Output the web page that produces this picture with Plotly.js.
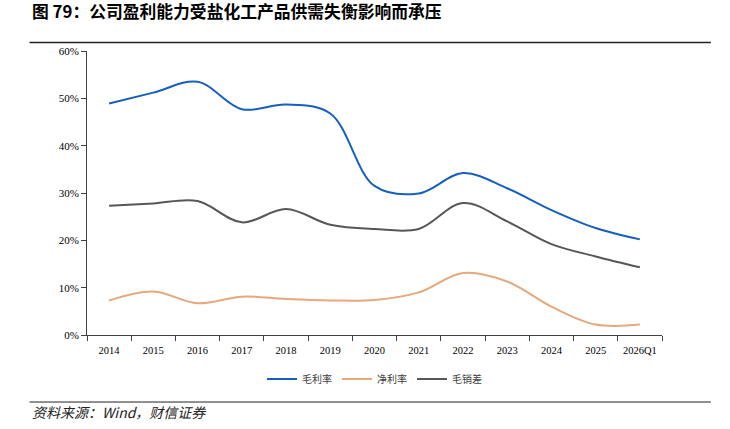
<!DOCTYPE html>
<html>
<head>
<meta charset="utf-8">
<script src="https://cdn.plot.ly/plotly-3.0.1.min.js"></script>
<style>
  html, body { margin: 0; padding: 0; background: #ffffff; }
  #chart { width: 730px; height: 429px; }
</style>
</head>
<body>
<div id="chart"></div>
<script>
// Year categories on the x axis
const years = ['2014', '2015', '2016', '2017', '2018', '2019', '2020',
               '2021', '2022', '2023', '2024', '2025', '2026Q1'];

// Gross margin (%)
const grossMargin = [48.9, 51.2, 53.5, 47.7, 48.7, 46.8, 31.5, 29.9, 34.2, 31.0, 26.4, 22.6, 20.2];
// Net margin (%)
const netMargin = [7.3, 9.2, 6.7, 8.1, 7.6, 7.3, 7.4, 9.0, 13.1, 11.3, 6.0, 2.2, 2.2];
// Gross margin minus selling expense ratio (%)
const grossLessSelling = [27.3, 27.8, 28.3, 23.8, 26.6, 23.3, 22.4, 22.4, 27.9, 24.0, 19.2, 16.6, 14.3];

const seriesNames = ['毛利率', '净利率', '毛销差'];
const seriesColors = ['#1660bd', '#e6a87c', '#575757'];
const seriesValues = [grossMargin, netMargin, grossLessSelling];

const traces = seriesValues.map((vals, i) => ({
  type: 'scatter',
  mode: 'lines',
  name: seriesNames[i],
  x: years,
  y: vals.map(v => v / 100),
  line: { color: seriesColors[i], width: 2, shape: 'spline', smoothing: 1 },
  hoverinfo: 'x+y'
}));

const serif = 'Liberation Serif, Times New Roman, serif';
const cjk = 'Noto Sans CJK SC, sans-serif';

const layout = {
  width: 730,
  height: 429,
  margin: { l: 87, r: 68, t: 51, b: 94 },
  paper_bgcolor: '#ffffff',
  plot_bgcolor: '#ffffff',
  showlegend: true,
  legend: {
    orientation: 'h',
    x: 0.5, xanchor: 'center',
    y: -0.155, yanchor: 'middle',
    font: { family: cjk, size: 10, color: '#404040' },
    itemwidth: 30,
    tracegroupgap: 0
  },
  xaxis: {
    type: 'category',
    range: [-0.5, years.length - 0.5],
    showgrid: false,
    zeroline: false,
    showline: true,
    linecolor: '#404040',
    linewidth: 1,
    ticks: 'outside',
    tickson: 'boundaries',
    ticklen: 5,
    tickcolor: '#404040',
    tickangle: 0,
    ticklabelstandoff: 5,
    tickfont: { family: serif, size: 10.5, color: '#000000' },
    fixedrange: true
  },
  yaxis: {
    range: [0, 0.6],
    dtick: 0.1,
    tickformat: '.0%',
    showgrid: false,
    zeroline: false,
    showline: true,
    linecolor: '#404040',
    linewidth: 1,
    ticks: 'outside',
    ticklen: 5,
    tickcolor: '#404040',
    tickfont: { family: serif, size: 11, color: '#000000' },
    fixedrange: true
  },
  shapes: [
    { type: 'line', xref: 'paper', yref: 'paper', x0: -0.1, x1: 1.085,
      y0: 1.03, y1: 1.03, line: { color: '#222222', width: 1.5 } },
    { type: 'line', xref: 'paper', yref: 'paper', x0: -0.1, x1: 1.085,
      y0: -0.236, y1: -0.236, line: { color: '#222222', width: 1 } }
  ],
  annotations: [
    { xref: 'paper', yref: 'paper', x: -0.1, y: 1.14, xanchor: 'left', yanchor: 'middle',
      text: '<b>图 79：公司盈利能力受盐化工产品供需失衡影响而承压</b>', showarrow: false,
      font: { family: cjk, size: 16.8, color: '#000000' } },
    { xref: 'paper', yref: 'paper', x: -0.1, y: -0.27, xanchor: 'left', yanchor: 'middle',
      text: '<i>资料来源：Wind，财信证券</i>', showarrow: false,
      font: { family: cjk, size: 14, color: '#222222' } }
  ]
};

Plotly.newPlot('chart', traces, layout, { displayModeBar: false, staticPlot: true });
</script>
</body>
</html>
